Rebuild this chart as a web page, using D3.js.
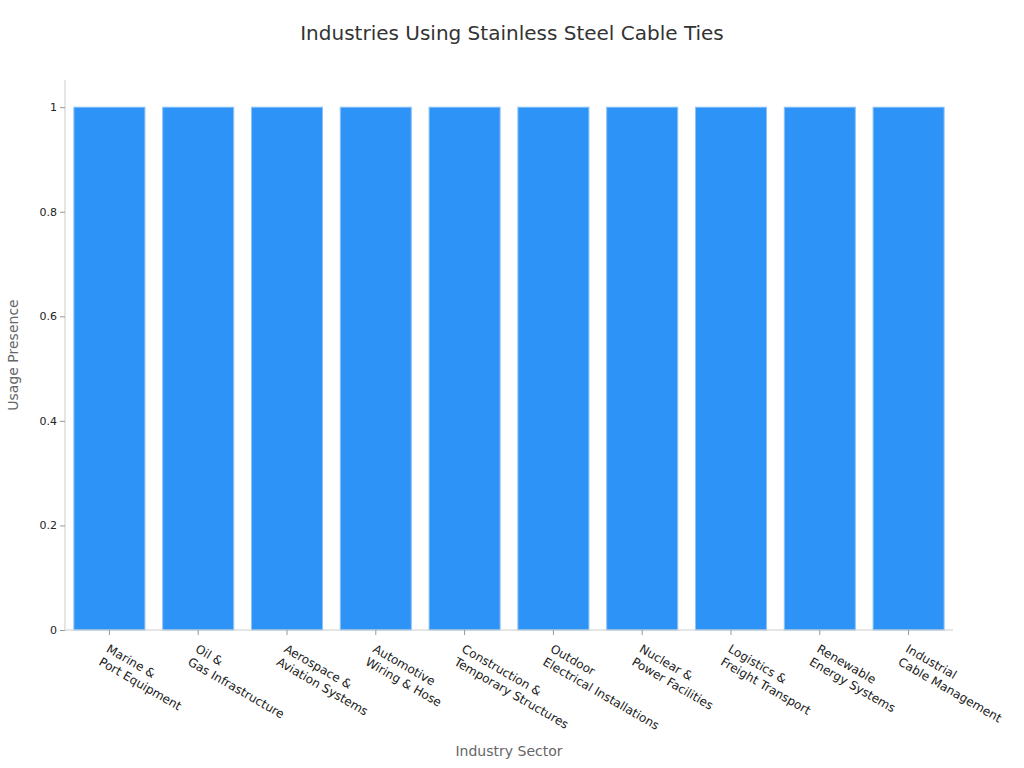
<!DOCTYPE html>
<html><head><meta charset="utf-8">
<script src="https://cdn.jsdelivr.net/npm/d3@7"></script>
<style>body{margin:0;background:#fff;font-family:"DejaVu Sans",sans-serif}</style>
</head><body>
<svg id="chart" width="1024" height="768"></svg>
<script>
const categories = [
  ["Marine &", "Port Equipment"],
  ["Oil &", "Gas Infrastructure"],
  ["Aerospace &", "Aviation Systems"],
  ["Automotive", "Wiring & Hose"],
  ["Construction &", "Temporary Structures"],
  ["Outdoor", "Electrical Installations"],
  ["Nuclear &", "Power Facilities"],
  ["Logistics &", "Freight Transport"],
  ["Renewable", "Energy Systems"],
  ["Industrial", "Cable Management"]
];
const values = [1, 1, 1, 1, 1, 1, 1, 1, 1, 1];
const yTicks = [0, 0.2, 0.4, 0.6, 0.8, 1];

const svg = d3.select("#chart");
const m = {left: 65, right: 953, top: 80, bottom: 630};

const x = d3.scaleBand().domain(d3.range(categories.length))
  .range([m.left, m.right]).paddingInner(0.2).paddingOuter(0.1);
const y = d3.scaleLinear().domain([0, 1.052]).range([m.bottom, m.top]);

svg.append("text").attr("x", 512).attr("y", 40).attr("text-anchor", "middle")
  .attr("font-size", 20).attr("fill", "#333").text("Industries Using Stainless Steel Cable Ties");

svg.selectAll("rect.bar").data(values).enter().append("rect")
  .attr("class", "bar")
  .attr("x", (d, i) => x(i)).attr("width", x.bandwidth())
  .attr("y", d => y(d)).attr("height", d => y(0) - y(d))
  .attr("fill", "#2e93f7").attr("stroke", "#8ec3f5").attr("stroke-width", 1);

// axes lines
svg.append("line").attr("x1", m.left).attr("x2", m.left).attr("y1", m.top).attr("y2", m.bottom)
  .attr("stroke", "#ccc");
svg.append("line").attr("x1", m.left).attr("x2", m.right).attr("y1", m.bottom).attr("y2", m.bottom)
  .attr("stroke", "#ccc");

const yAxis = svg.append("g").attr("transform", `translate(${m.left},0)`)
  .call(d3.axisLeft(y).tickValues(yTicks).tickSize(5).tickFormat(d => String(d)));
yAxis.select(".domain").remove();
yAxis.selectAll("line").attr("stroke", "#999");
yAxis.selectAll("text").attr("font-size", 11).attr("fill", "#222").attr("font-family", "DejaVu Sans");

const xg = svg.append("g");
categories.forEach((c, i) => {
  const cx = x(i) + x.bandwidth() / 2;
  xg.append("line").attr("x1", cx).attr("x2", cx).attr("y1", m.bottom).attr("y2", m.bottom + 5).attr("stroke", "#999");
  const g = xg.append("g").attr("transform", `translate(${cx + 1},${m.bottom + 13}) rotate(30)`);
  c.forEach((s, k) => g.append("text").attr("x", 0).attr("y", k * 15).attr("dy", "0.8em")
    .attr("font-size", 12).attr("fill", "#222").text(s));
});

svg.append("text").attr("x", 509).attr("y", 756).attr("text-anchor", "middle")
  .attr("font-size", 14).attr("fill", "#666").text("Industry Sector");
svg.append("text").attr("transform", "translate(18,355) rotate(-90)").attr("text-anchor", "middle")
  .attr("font-size", 14).attr("fill", "#666").text("Usage Presence");
</script>
</body></html>
